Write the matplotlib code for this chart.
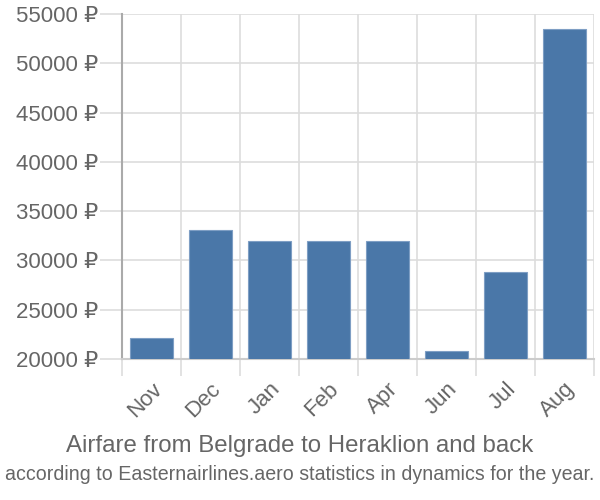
#!/usr/bin/env python3
# airfare bar chart, Belgrade - Heraklion

import numpy as np
import matplotlib
matplotlib.use("Agg")
import matplotlib.pyplot as plt

months = ["Nov", "Dec", "Jan", "Feb", "Apr", "Jun", "Jul", "Aug"]
prices = [22100, 33050, 31950, 31950, 31950, 20780, 28850, 53470]
yticks = [20000, 25000, 30000, 35000, 40000, 45000, 50000, 55000]

plt.rcParams['font.family'] = ['Liberation Sans', 'DejaVu Sans']
grid_c = "#dddddd"
text_c = "#666666"

fig = plt.figure(figsize=(6, 5), dpi=100)
ax = fig.add_axes([0.203, 0.282, 0.787, 0.690])

x = np.arange(len(months))
ax.bar(x, prices, width=0.72, color="#4a77a8", edgecolor="#7e9ec4", linewidth=0.8, zorder=3)

ax.set_xlim(-0.5, len(months) - 0.5)
ax.set_ylim(20000, 55000)

ax.set_yticks(yticks)
ax.set_yticklabels([f"{v} ₽" for v in yticks], fontsize=16, color=text_c)
ax.tick_params(axis="y", length=16, color=grid_c, width=1.2, pad=1)

ax.set_xticks(x)
ax.set_xticklabels(months, rotation=45, ha="right", rotation_mode="anchor",
                   fontsize=16, color=text_c)
ax.set_xticks(np.arange(len(months) + 1) - 0.5, minor=True)
ax.tick_params(axis="x", which="major", length=0, pad=14)
ax.tick_params(axis="x", which="minor", length=12, color=grid_c, width=1.2)

ax.grid(axis="y", color=grid_c, linewidth=1.2, zorder=0)
ax.grid(axis="x", which="minor", color=grid_c, linewidth=1.2, zorder=0)

for s in ["top", "right"]:
    ax.spines[s].set_visible(False)
ax.spines["left"].set_color("#aaaaaa")
ax.spines["left"].set_linewidth(1.5)
ax.spines["bottom"].set_color("#cccccc")
ax.spines["bottom"].set_linewidth(1.5)

fig.text(0.5, 0.108, "Airfare from Belgrade to Heraklion and back",
         ha="center", va="center", fontsize=17.3, color=text_c)
fig.text(0.5, 0.052, "according to Easternairlines.aero statistics in dynamics for the year.",
         ha="center", va="center", fontsize=14.1, color=text_c)

fig.savefig("out.png", dpi=100)
